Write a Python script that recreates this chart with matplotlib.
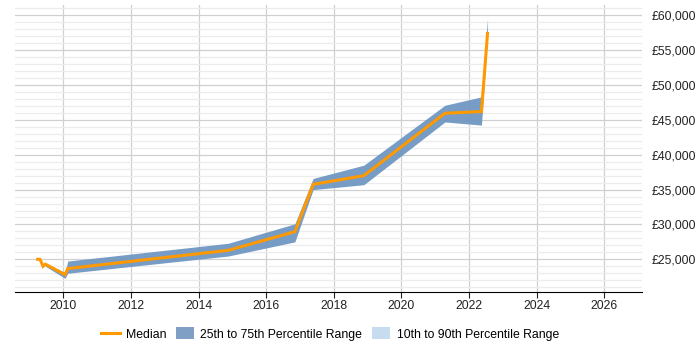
import numpy as np
import matplotlib
matplotlib.use("Agg")
import matplotlib.pyplot as plt
from matplotlib.ticker import MultipleLocator, FuncFormatter
from matplotlib.lines import Line2D
from matplotlib.patches import Patch

plt.rcParams['font.family'] = ['Liberation Sans', 'DejaVu Sans']

years = [2009.24, 2009.31, 2009.40, 2009.47, 2010.05, 2010.13, 2014.88, 2016.85, 2017.39, 2018.89, 2021.29, 2022.37, 2022.55]
median = [25000, 25000, 24000, 24300, 22800, 23670, 26290, 28960, 35750, 37000, 45950, 46200, 57400]
p25 = [np.nan, np.nan, np.nan, 24000, 22270, 23000, 25470, 27500, 35000, 35700, 44700, 44250, 57000]
p75 = [np.nan, np.nan, np.nan, 24450, 23080, 24750, 27300, 30090, 36600, 38500, 47100, 48300, 59500]

xticks = [2010, 2012, 2014, 2016, 2018, 2020, 2022, 2024, 2026]

fig = plt.figure(figsize=(7, 3.5), dpi=100)
ax = fig.add_axes([15/700, 1-292/350, (642-15)/700, (292-5)/350])

y = np.array(years)
lo = np.array(p25, dtype=float)
hi = np.array(p75, dtype=float)
mask = ~np.isnan(lo)
ax.fill_between(y[mask], lo[mask], hi[mask], color='#7097c2', linewidth=0, alpha=0.95, zorder=2)
ax.plot(years, median, color='#ff9900', linewidth=2.2, zorder=3, solid_joinstyle='miter')

ax.set_xlim(2008.57, 2027.12)
ax.set_ylim(20310, 61480)
ax.set_xticks(xticks)
ax.set_xticklabels([str(t) for t in xticks])
ax.yaxis.set_major_locator(MultipleLocator(5000))
ax.yaxis.set_minor_locator(MultipleLocator(1000))
ax.yaxis.set_major_formatter(FuncFormatter(lambda v, p: "£{:,.0f}".format(v)))
ax.yaxis.tick_right()
ax.grid(True, which='major', axis='both', color='#d0d0d0', linewidth=0.9, zorder=0)
ax.grid(True, which='minor', axis='y', color='#ececec', linewidth=0.9, zorder=0)
ax.set_axisbelow(True)
for s in ['top', 'left', 'right']:
    ax.spines[s].set_visible(False)
ax.spines['bottom'].set_color('#000000')
ax.tick_params(axis='y', which='both', length=0, labelsize=8.8, pad=7, colors='#222222')
ax.tick_params(axis='x', length=4, labelsize=8.8, colors='#222222', pad=2)

handles = [Line2D([0], [0], color='#ff9900', linewidth=2.2),
           Patch(color='#7f9fc4', linewidth=0),
           Patch(color='#c8dcf0', linewidth=0)]
labels = ['Median', '25th to 75th Percentile Range', '10th to 90th Percentile Range']
fig.legend(handles, labels, loc='center', bbox_to_anchor=(330/700, 1-334/350), ncol=3,
           frameon=False, fontsize=8.8, handlelength=1.5, handleheight=1.1, columnspacing=0.8,
           handletextpad=0.5)

fig.savefig('out.png', dpi=100)
